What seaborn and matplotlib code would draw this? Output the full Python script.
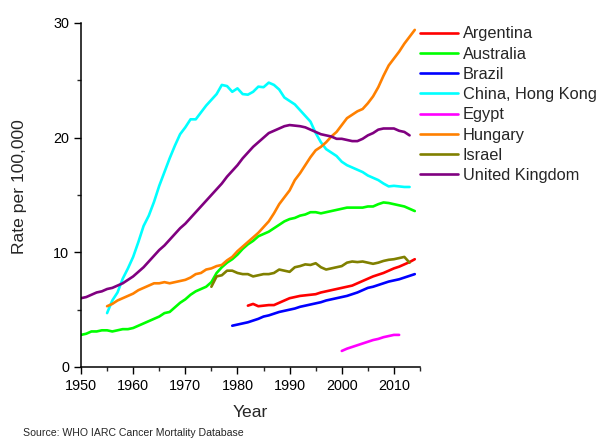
import pandas as pd
import matplotlib
matplotlib.use("Agg")
import matplotlib.pyplot as plt
from matplotlib.ticker import MultipleLocator
import seaborn as sns

# rate per 100,000, one value per year from the start year
argentina_start = 1982
argentina = [5.35, 5.5, 5.3, 5.35, 5.4, 5.4, 5.6, 5.8, 6.0, 6.1, 6.2, 6.25, 6.3, 6.35,
             6.5, 6.6, 6.7, 6.8, 6.9, 7.0, 7.1, 7.3, 7.5, 7.7, 7.9, 8.05, 8.2, 8.4,
             8.6, 8.75, 8.95, 9.15, 9.4]

australia_start = 1950
australia = [2.8, 2.9, 3.1, 3.1, 3.2, 3.2, 3.1, 3.2, 3.3, 3.3,
             3.4, 3.6, 3.8, 4.0, 4.2, 4.4, 4.7, 4.8, 5.2, 5.6,
             5.9, 6.3, 6.6, 6.8, 7.0, 7.4, 8.2, 8.7, 9.1, 9.4,
             9.8, 10.3, 10.7, 11.0, 11.4, 11.6, 11.8, 12.1, 12.4, 12.7,
             12.9, 13.0, 13.2, 13.3, 13.5, 13.5, 13.4, 13.5, 13.6, 13.7,
             13.8, 13.9, 13.9, 13.9, 13.9, 14.0, 14.0, 14.2, 14.35, 14.3,
             14.2, 14.1, 14.0, 13.8, 13.6]

brazil_start = 1979
brazil = [3.6, 3.7, 3.8, 3.9, 4.05, 4.2, 4.4, 4.5, 4.65, 4.8, 4.9, 5.0, 5.1, 5.25,
          5.35, 5.45, 5.55, 5.65, 5.8, 5.9, 6.0, 6.1, 6.2, 6.35, 6.5, 6.7, 6.9,
          7.0, 7.15, 7.3, 7.45, 7.55, 7.65, 7.8, 7.95, 8.1]

hong_kong_start = 1955
hong_kong = [4.7, 5.8, 6.5, 7.7, 8.6, 9.6, 10.9, 12.3, 13.2, 14.4,
             15.8, 17.0, 18.2, 19.3, 20.3, 20.9, 21.6, 21.6, 22.2, 22.8,
             23.3, 23.8, 24.6, 24.5, 24.0, 24.3, 23.8, 23.75, 24.0, 24.45,
             24.4, 24.8, 24.6, 24.2, 23.5, 23.2, 22.9, 22.4, 21.9, 21.4,
             20.4, 19.6, 19.0, 18.7, 18.4, 17.9, 17.6, 17.4, 17.2, 17.0,
             16.7, 16.5, 16.3, 16.0, 15.75, 15.8, 15.75, 15.7, 15.7]

egypt_start = 2000
egypt = [1.4, 1.6, 1.75, 1.9, 2.05, 2.2, 2.35, 2.45, 2.6, 2.7, 2.8, 2.8]

hungary_start = 1955
hungary = [5.3, 5.5, 5.8, 6.0, 6.2, 6.4, 6.7, 6.9, 7.1, 7.3,
           7.3, 7.4, 7.3, 7.4, 7.5, 7.6, 7.8, 8.1, 8.2, 8.5,
           8.6, 8.8, 8.9, 9.3, 9.6, 10.1, 10.5, 10.9, 11.3, 11.7,
           12.2, 12.7, 13.4, 14.2, 14.8, 15.4, 16.3, 16.9, 17.6, 18.3,
           18.9, 19.2, 19.6, 20.1, 20.5, 21.1, 21.7, 22.0, 22.3, 22.5,
           23.0, 23.6, 24.4, 25.4, 26.3, 26.9, 27.5, 28.2, 28.8, 29.4]

israel_start = 1975
israel = [7.0, 7.9, 8.0, 8.4, 8.4, 8.2, 8.1, 8.1, 7.9, 8.0, 8.1, 8.1, 8.2, 8.5,
          8.4, 8.3, 8.7, 8.8, 8.95, 8.9, 9.05, 8.7, 8.5, 8.6, 8.7, 8.8, 9.1,
          9.2, 9.15, 9.2, 9.1, 9.0, 9.1, 9.25, 9.35, 9.4, 9.5, 9.6, 9.1]

uk_start = 1950
uk = [6.0, 6.1, 6.3, 6.5, 6.6, 6.8, 6.9, 7.1, 7.3, 7.6,
      7.9, 8.3, 8.7, 9.2, 9.7, 10.2, 10.6, 11.1, 11.6, 12.1,
      12.5, 13.0, 13.5, 14.0, 14.5, 15.0, 15.5, 16.0, 16.6, 17.1,
      17.6, 18.2, 18.7, 19.2, 19.6, 20.0, 20.4, 20.6, 20.8, 21.0,
      21.1, 21.05, 21.0, 20.9, 20.7, 20.5, 20.3, 20.2, 20.1, 19.9,
      19.9, 19.8, 19.7, 19.7, 19.9, 20.2, 20.4, 20.7, 20.8, 20.8,
      20.8, 20.6, 20.5, 20.2]

countries = ["Argentina", "Australia", "Brazil", "China, Hong Kong",
             "Egypt", "Hungary", "Israel", "United Kingdom"]
starts = [argentina_start, australia_start, brazil_start, hong_kong_start,
          egypt_start, hungary_start, israel_start, uk_start]
series = [argentina, australia, brazil, hong_kong, egypt, hungary, israel, uk]
colors = ["#ff0000", "#00ff00", "#0000ff", "#00ffff",
          "#ff00ff", "#ff8000", "#808000", "#800080"]

rows = []
for name, start, vals in zip(countries, starts, series):
    for i, v in enumerate(vals):
        rows.append({"Country": name, "Year": start + i, "Rate": v})
df = pd.DataFrame(rows)

sns.set_style("ticks")
plt.rcParams["font.family"] = ["Liberation Sans", "DejaVu Sans"]

fig = plt.figure(figsize=(5.98, 4.38), dpi=100)
ax = fig.add_axes([81 / 598, 71 / 438, 339 / 598, 344 / 438])

sns.lineplot(data=df, x="Year", y="Rate", hue="Country", hue_order=countries,
             palette=dict(zip(countries, colors)), linewidth=1.9, ax=ax)

ax.set_xlim(1950, 2015)
ax.set_ylim(0, 30)
ax.xaxis.set_major_locator(MultipleLocator(10))
ax.xaxis.set_minor_locator(MultipleLocator(5))
ax.yaxis.set_major_locator(MultipleLocator(10))
ax.yaxis.set_minor_locator(MultipleLocator(5))
ax.tick_params(which="major", length=5, width=1, pad=3.5, labelsize=10.4, colors="black")
ax.tick_params(which="minor", length=3, width=1)
for s in ["left", "bottom"]:
    ax.spines[s].set_color("black")
    ax.spines[s].set_linewidth(1.1)
sns.despine(ax=ax)

ax.set_xlabel("Year", fontsize=12.6, labelpad=9)
ax.set_ylabel("Rate per 100,000", fontsize=12.6)
ax.yaxis.set_label_coords(-0.159, 0.525)

ax.legend(loc="upper left", bbox_to_anchor=(1.0, 0.99), frameon=False,
          fontsize=11.8, handlelength=2.3, handletextpad=0.3, labelspacing=0.32,
          borderaxespad=0, borderpad=0)

fig.text(23 / 598, 2 / 438, "Source: WHO IARC Cancer Mortality Database",
         fontsize=7.6, va="baseline", ha="left")

fig.savefig("out.png", dpi=100)
